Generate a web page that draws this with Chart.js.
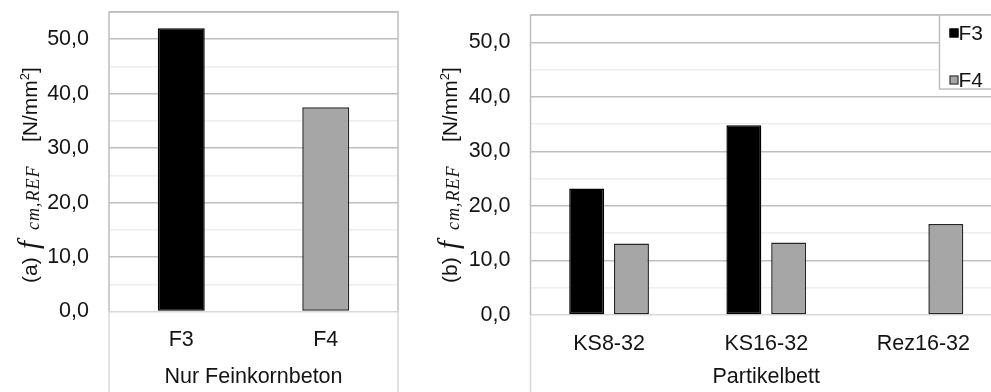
<!DOCTYPE html>
<html>
<head>
<meta charset="utf-8">
<script src="https://cdn.jsdelivr.net/npm/chart.js@4.4.1/dist/chart.umd.min.js"></script>
<style>
  html, body { margin: 0; padding: 0; background: #fff; overflow: hidden; width: 991px; height: 392px; }
  #wrapA { position: absolute; left: 0; top: 0; }
  #wrapB { position: absolute; left: 420px; top: 0; }
</style>
</head>
<body>
<div id="wrapA"><canvas id="chartA" width="420" height="392"></canvas></div>
<div id="wrapB"><canvas id="chartB" width="600" height="392"></canvas></div>
<script>
// data
const seriesNames = ['F3', 'F4'];

const labelsA = ['F3', 'F4'];
const f3ValuesA = [52.0, null];
const f4ValuesA = [null, 37.5];

const labelsB = ['KS8-32', 'KS16-32', 'Rez16-32'];
const f3ValuesB = [23.2, 34.8, null];
const f4ValuesB = [13.1, 13.3, 16.7];

const yTickValues = [0, 10, 20, 30, 40, 50];
const yMax = 55;

const sansFont = "'Liberation Sans', Arial, sans-serif";
const serifFont = "'Liberation Serif', 'Times New Roman', serif";
const textColor = '#141414';
const majorGrid = '#bfbfbf';
const minorGrid = '#eeeeee';
const axisLine = '#d9d9d9';

const barStyles = [
    { backgroundColor: '#000000', borderColor: '#000000' },
    { backgroundColor: '#a6a6a6', borderColor: '#262626' }
];

function formatTick(value) {
    return value.toFixed(1).replace('.', ',');
}

// rotated y title: "(a)  f_cm,REF  [N/mm²]"
const yTitlePlugin = {
    id: 'yTitle',
    afterDraw(chart, args, opts) {
        const ctx = chart.ctx;
        ctx.save();
        ctx.translate(opts.x, opts.bottom);
        ctx.rotate(-Math.PI / 2);
        ctx.fillStyle = textColor;
        ctx.textBaseline = 'alphabetic';
        ctx.textAlign = 'left';

        ctx.font = '21px ' + sansFont;
        ctx.fillText(opts.prefix, 0, 0);

        ctx.font = 'italic 29px ' + serifFont;
        ctx.fillText('f', 34, 1);

        ctx.font = 'italic 18px ' + serifFont;
        ctx.letterSpacing = '1px';
        ctx.fillText('cm,REF', 53, 2);
        ctx.letterSpacing = '0px';

        let x = 141;
        ctx.font = '21px ' + sansFont;
        ctx.fillText('[N/mm', x, 0);
        x += ctx.measureText('[N/mm').width;
        ctx.font = '13px ' + sansFont;
        ctx.fillText('2', x, -8);
        x += ctx.measureText('2').width;
        ctx.font = '21px ' + sansFont;
        ctx.fillText(']', x, 0);
        ctx.restore();
    }
};

// plot frame: darker around plot area, lighter below the axis
const framePlugin = {
    id: 'frame',
    beforeDatasetsDraw(chart) {
        const { ctx, chartArea: a } = chart;
        ctx.save();
        ctx.lineWidth = 1.5;
        ctx.strokeStyle = majorGrid;
        ctx.beginPath();
        ctx.moveTo(a.left, a.bottom);
        ctx.lineTo(a.left, a.top);
        ctx.lineTo(a.right, a.top);
        ctx.lineTo(a.right, a.bottom);
        ctx.stroke();
        ctx.strokeStyle = axisLine;
        ctx.beginPath();
        ctx.moveTo(a.left, a.bottom);
        ctx.lineTo(a.left, chart.height);
        ctx.moveTo(a.right, a.bottom);
        ctx.lineTo(a.right, chart.height);
        ctx.stroke();
        ctx.restore();
    }
};

// legend box in the top right corner of panel (b)
const boxLegendPlugin = {
    id: 'boxLegend',
    afterDraw(chart, args, opts) {
        if (!opts.show) return;
        const ctx = chart.ctx;
        ctx.save();
        ctx.fillStyle = '#ffffff';
        ctx.strokeStyle = majorGrid;
        ctx.lineWidth = 1.5;
        ctx.fillRect(opts.x, opts.y, chart.width - opts.x + 10, opts.h);
        ctx.strokeRect(opts.x, opts.y, chart.width - opts.x + 10, opts.h);
        ctx.font = '21px ' + sansFont;
        ctx.textBaseline = 'middle';
        chart.data.datasets.forEach((ds, i) => {
            const cy = opts.rows[i];
            ctx.fillStyle = ds.backgroundColor;
            ctx.fillRect(opts.x + 10, cy - 4.5, 9, 9);
            ctx.strokeStyle = ds.borderColor;
            ctx.lineWidth = 1;
            ctx.strokeRect(opts.x + 10.5, cy - 4, 8, 8);
            ctx.fillStyle = textColor;
            ctx.fillText(ds.label, opts.x + 19, cy + 1);
        });
        ctx.restore();
    }
};

function makeOptions(o) {
    return {
        responsive: false,
        animation: false,
        layout: { padding: { top: o.top, right: o.right, left: 0, bottom: 0 } },
        datasets: {
            bar: {
                categoryPercentage: o.catPct,
                barPercentage: o.barPct,
                borderWidth: 1.5,
                borderSkipped: false,
                skipNull: o.skipNull
            }
        },
        plugins: {
            legend: { display: false },
            tooltip: { enabled: false },
            yTitle: { prefix: o.prefix, x: 37, bottom: 283 },
            boxLegend: o.legend
        },
        scales: {
            x: {
                grid: { display: false },
                border: { display: false },
                ticks: {
                    color: textColor,
                    padding: o.xPad,
                    font: { family: sansFont, size: 21.5 }
                },
                title: {
                    display: true,
                    text: o.xTitle,
                    color: textColor,
                    padding: { top: 0, bottom: 2 },
                    font: { family: sansFont, size: 21.5 }
                },
                afterFit(scale) { scale.height = o.xHeight; }
            },
            y: {
                min: 0,
                max: yMax,
                border: { display: false },
                grid: {
                    drawTicks: false,
                    lineWidth: 1.5,
                    color(c) {
                        const v = c.tick.value;
                        if (v === 0) return axisLine;
                        if (v === yMax || yTickValues.includes(v)) return majorGrid;
                        return minorGrid;
                    }
                },
                ticks: {
                    stepSize: 5,
                    autoSkip: false,
                    padding: 20,
                    color: textColor,
                    font: { family: sansFont, size: 21.5 },
                    callback: (v) => yTickValues.includes(v) ? formatTick(v) : ''
                },
                afterFit(scale) {
                    scale.width = o.yWidth;
                    // labels sit inside the fixed width; no extra room needed above/below
                    scale.paddingTop = 0;
                    scale.paddingBottom = 0;
                }
            }
        }
    };
}

Chart.register(yTitlePlugin, framePlugin, boxLegendPlugin);

new Chart(document.getElementById('chartA'), {
    type: 'bar',
    data: {
        labels: labelsA,
        datasets: [
            { label: seriesNames[0], data: f3ValuesA, ...barStyles[0] },
            { label: seriesNames[1], data: f4ValuesA, ...barStyles[1] }
        ]
    },
    options: makeOptions({
        top: 12, right: 22, yWidth: 109, xHeight: 80.5, xPad: 8,
        catPct: 0.5, barPct: 0.65, skipNull: true,
        prefix: '(a)', xTitle: 'Nur Feinkornbeton',
        legend: { show: false }
    })
});

new Chart(document.getElementById('chartB'), {
    type: 'bar',
    data: {
        labels: labelsB,
        datasets: [
            { label: seriesNames[0], data: f3ValuesB, ...barStyles[0] },
            { label: seriesNames[1], data: f4ValuesB, ...barStyles[1] }
        ]
    },
    options: makeOptions({
        top: 15, right: 18, yWidth: 110.5, xHeight: 77, xPad: 8,
        catPct: 0.57, barPct: 0.78, skipNull: false,
        prefix: '(b)', xTitle: 'Partikelbett',
        legend: { show: true, x: 519.5, y: 15, h: 74, rows: [33, 80] }
    })
});
</script>
</body>
</html>
